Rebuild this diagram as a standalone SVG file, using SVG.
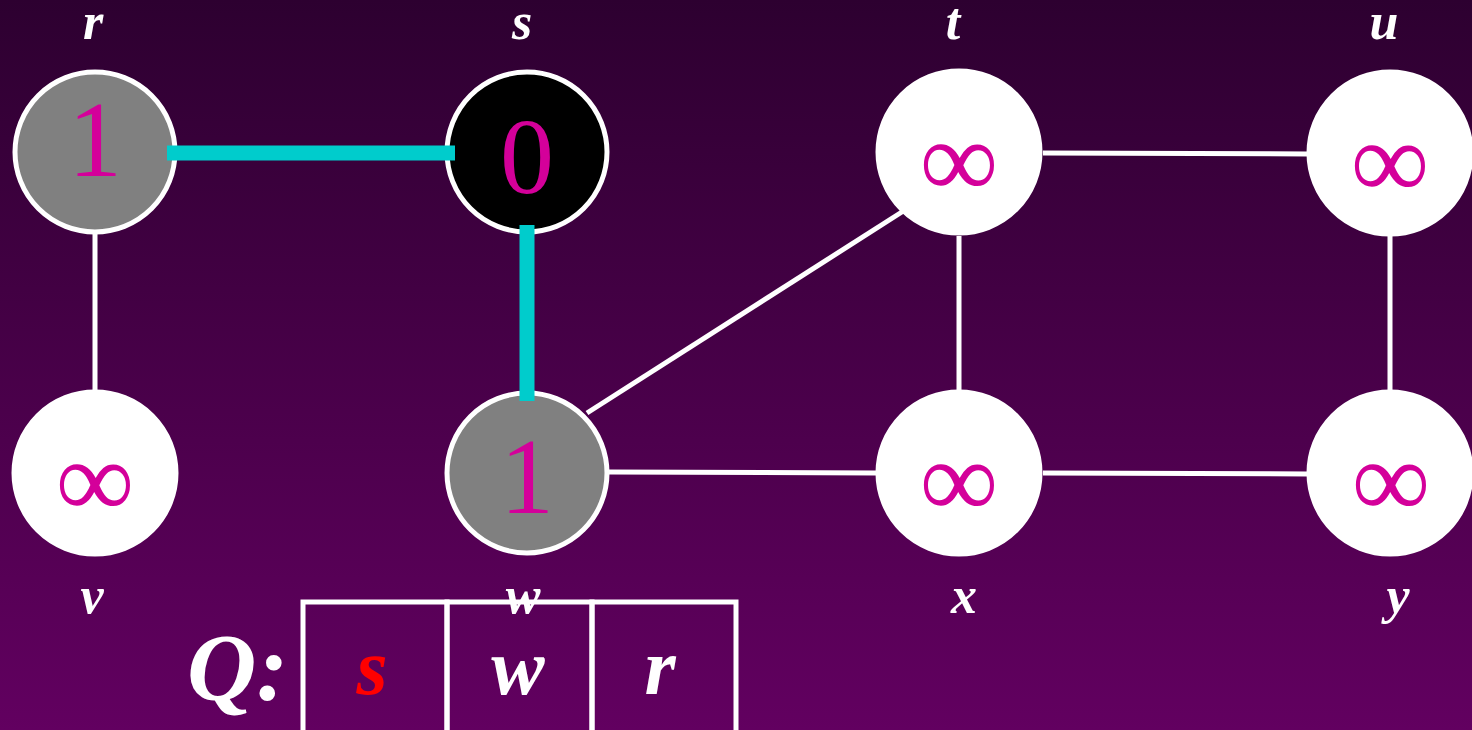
<svg xmlns="http://www.w3.org/2000/svg" width="1472" height="730" viewBox="0 0 1472 730">
<defs>
<linearGradient id="bg" x1="0" y1="0" x2="0" y2="1">
<stop offset="0" stop-color="#2D0030"/>
<stop offset="1" stop-color="#620060"/>
</linearGradient>
</defs>
<style>
.edge{stroke:#FFFFFF;stroke-width:5;fill:none}
.tree{stroke:#00CCCC;stroke-width:15;fill:none}
.node{stroke:#FFFFFF;stroke-width:5}
.white{fill:#FFFFFF}
.gray{fill:#808080}
.black{fill:#000000}
.num{font-family:"Liberation Serif",serif;font-size:108px;fill:#D4009A;text-anchor:middle}
.inf{font-family:"Liberation Serif",serif;font-size:110px;fill:#D4009A;text-anchor:middle}
.lbl{font-family:"Liberation Serif",serif;font-size:52px;font-weight:bold;font-style:italic;fill:#FFFFFF;text-anchor:middle}
.qtxt{font-family:"Liberation Serif",serif;font-size:80px;font-weight:bold;font-style:italic;fill:#FFFFFF;text-anchor:middle}
.cell{fill:none;stroke:#FFFFFF;stroke-width:5}
</style>
<rect x="0" y="0" width="1472" height="730" fill="url(#bg)"/>
<g id="connectors">
<line class="edge" x1="95" y1="233" x2="95" y2="392"/>
<line class="edge" x1="587" y1="413" x2="905" y2="210"/>
<line class="edge" x1="609" y1="472" x2="876" y2="473"/>
<line class="edge" x1="1043" y1="153" x2="1308" y2="154"/>
<line class="edge" x1="1043" y1="473" x2="1308" y2="474"/>
<line class="edge" x1="959" y1="236" x2="959" y2="390"/>
<line class="edge" x1="1390" y1="236" x2="1390" y2="390"/>
</g>
<g id="node-r"><circle class="node gray" cx="95" cy="152" r="80"/><text class="num" x="95" y="176">1</text></g>
<g id="node-s"><circle class="node black" cx="527" cy="152" r="80"/><text class="num" x="527" y="193">0</text></g>
<g id="node-t"><circle class="node white" cx="959" cy="152" r="81"/><text class="inf" x="959" y="197">∞</text></g>
<g id="node-u"><circle class="node white" cx="1390" cy="153" r="81"/><text class="inf" x="1390" y="198">∞</text></g>
<g id="node-v"><circle class="node white" cx="95" cy="473" r="81"/><text class="inf" x="95" y="517">∞</text></g>
<g id="node-w"><circle class="node gray" cx="527" cy="473" r="80"/><text class="num" x="527" y="513">1</text></g>
<g id="node-x"><circle class="node white" cx="959" cy="473" r="81"/><text class="inf" x="959" y="517">∞</text></g>
<g id="node-y"><circle class="node white" cx="1390" cy="473" r="81"/><text class="inf" x="1391" y="517">∞</text></g>
<g id="tree-edges">
<line class="tree" x1="167" y1="153" x2="455" y2="153"/>
<line class="tree" x1="527" y1="225" x2="527" y2="401"/>
</g>
<g id="labels">
<text class="lbl" x="93" y="39">r</text>
<text class="lbl" x="522" y="39">s</text>
<text class="lbl" x="953" y="39">t</text>
<text class="lbl" x="1384" y="39">u</text>
<text class="lbl" x="92" y="613">v</text>
<text class="lbl" x="523" y="613">w</text>
<text class="lbl" x="964" y="613">x</text>
<text class="lbl" x="1398" y="613">y</text>
</g>
<g id="queue">
<text class="qtxt" x="187" y="700" style="text-anchor:start;font-size:96px">Q:</text>
<rect class="cell" x="303" y="602" width="144" height="140"/>
<rect class="cell" x="447" y="602" width="145" height="140"/>
<rect class="cell" x="592" y="602" width="144" height="140"/>
<text class="qtxt" x="372" y="694" style="fill:#FF0000">s</text>
<text class="qtxt" x="518" y="694">w</text>
<text class="qtxt" x="660" y="694">r</text>
</g>
</svg>
